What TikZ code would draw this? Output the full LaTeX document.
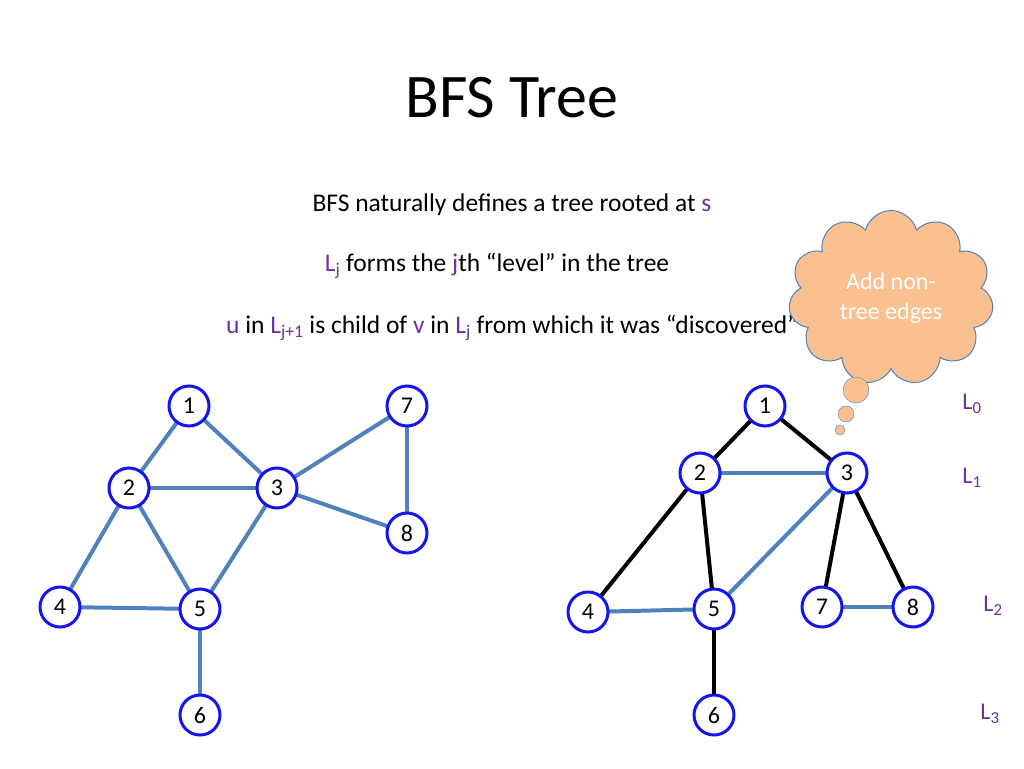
\documentclass[tikz,border=0pt]{standalone}
\usepackage{fontspec}
\setmainfont{Carlito}
\usetikzlibrary{shapes.symbols}
\definecolor{edgeblue}{RGB}{79,129,189}
\definecolor{ringblue}{RGB}{20,20,240}
\definecolor{lvl}{RGB}{112,48,160}
\definecolor{cloudfill}{RGB}{250,192,143}
\tikzset{
  vtx/.style={circle,draw=ringblue,line width=3pt,fill=white,minimum size=40pt,inner sep=0pt,font=\fontsize{24}{24}\selectfont},
  gedge/.style={draw=edgeblue,line width=4pt},
  tedge/.style={draw=black,line width=4pt},
  lvllabel/.style={text=lvl,font=\fontsize{24}{24}\selectfont},
  txtline/.style={font=\fontsize{25.5}{30}\selectfont}
}
\newcommand{\hl}[1]{\textcolor{lvl}{#1}}
\begin{document}
\begin{tikzpicture}[x=1pt,y=-1pt]
  \useasboundingbox[fill=white] (0,0) rectangle (1024,768);
  \node (title) at (512,98) {\fontsize{62}{62}\selectfont BFS Tree};
  \node[txtline] (t1) at (512,205) {BFS naturally defines a tree rooted at \hl{s}};
  \node[txtline] (t2) at (497,266) {\hl{L\textsubscript{j}} forms the \hl{j}th “level” in the tree};
  \node[txtline] (t3) at (512,328) {\hl{u} in \hl{L\textsubscript{j+1}} is child of \hl{v} in \hl{L\textsubscript{j}} from which it was “discovered”};
  % cloud
  \node[cloud,cloud puffs=11,aspect=1.3,draw=edgeblue,line width=1pt,fill=cloudfill,minimum width=205pt,minimum height=175pt,align=center,text=white,font=\fontsize{24}{30}\selectfont] (cl) at (891,298) {Add non-\\tree edges};
  \node[circle,draw=edgeblue,fill=cloudfill,minimum size=26pt,inner sep=0pt] (b1) at (856,390) {};
  \node[circle,draw=edgeblue,fill=cloudfill,minimum size=16pt,inner sep=0pt] (b2) at (846,414) {};
  \node[circle,draw=edgeblue,fill=cloudfill,minimum size=10pt,inner sep=0pt] (b3) at (840,430) {};
  % left graph
  \foreach \n/\x/\y in {1/189/406,7/407/406,2/129/488,3/277/488,8/407/533,4/60/607,5/200/609,6/200/715}
    \coordinate (a\n) at (\x,\y);
  \foreach \u/\v in {1/2,1/3,2/3,2/4,2/5,3/5,3/7,3/8,7/8,4/5,5/6}
    \draw[gedge] (a\u) -- (a\v);
  \foreach \n in {1,...,8}
    \node[vtx] (va\n) at (a\n) {\n};
  % right graph
  \foreach \n/\x/\y in {1/765/406,2/700/473,3/847/473,4/588/612,5/714/609,7/822/607,8/913/607,6/714/715}
    \coordinate (b\n) at (\x,\y);
  \foreach \u/\v in {2/3,3/5,4/5,7/8}
    \draw[gedge] (b\u) -- (b\v);
  \foreach \u/\v in {1/2,1/3,2/4,2/5,3/7,3/8,5/6}
    \draw[tedge] (b\u) -- (b\v);
  \foreach \n in {1,...,8}
    \node[vtx] (vb\n) at (b\n) {\n};
  % levels
  \node[lvllabel] (l0) at (972,404) {L\textsubscript{0}};
  \node[lvllabel] (l1) at (972,478) {L\textsubscript{1}};
  \node[lvllabel] (l2) at (993,606) {L\textsubscript{2}};
  \node[lvllabel] (l3) at (990,714) {L\textsubscript{3}};
\end{tikzpicture}
\end{document}
